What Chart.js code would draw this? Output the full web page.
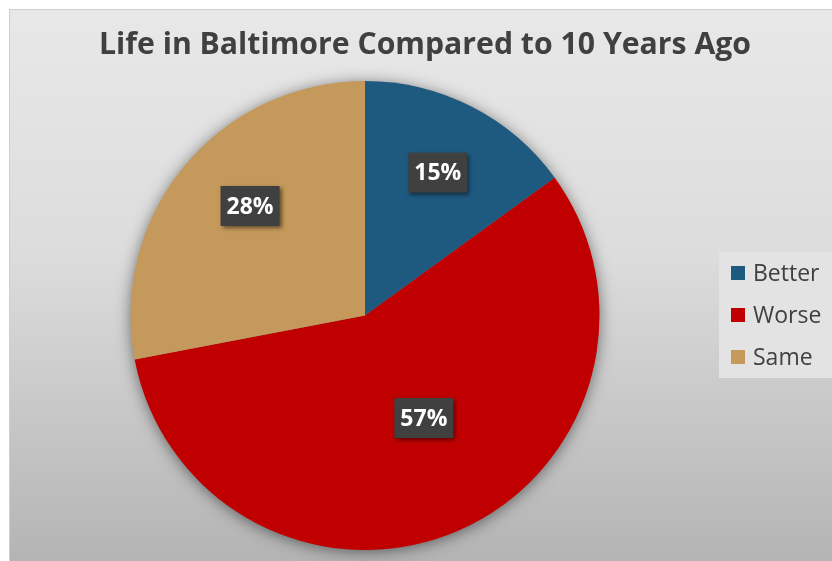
<!DOCTYPE html>
<html><head><meta charset="utf-8">
<script src="https://cdn.jsdelivr.net/npm/chart.js@4/dist/chart.umd.min.js"></script>
<style>html,body{margin:0;padding:0;background:#fff}#wrap{width:832px;height:561px;position:relative}</style>
</head><body><div id="wrap"><canvas id="c" width="832" height="561"></canvas></div>
<script>
const titleText = "Life in Baltimore Compared to 10 Years Ago";
const categories = ["Better", "Worse", "Same"];
const values = [15, 57, 28];
const labelsText = ["15%", "57%", "28%"];
const colors = ["#1e5a80", "#c00000", "#c4995b"];

const bgPlugin = {
  id: 'bg',
  beforeDraw(chart) {
    const ctx = chart.ctx;
    ctx.save();
    ctx.fillStyle = '#ffffff';
    ctx.fillRect(0, 0, chart.width, chart.height);
    const g = ctx.createLinearGradient(0, 9, 0, chart.height);
    g.addColorStop(0, '#e8e8e8');
    g.addColorStop(0.45, '#dcdcdc');
    g.addColorStop(1, '#b4b4b4');
    ctx.fillStyle = g;
    ctx.fillRect(9, 9, chart.width - 9, chart.height - 9);
    ctx.strokeStyle = '#cfcfcf';
    ctx.lineWidth = 1;
    ctx.strokeRect(9.5, 9.5, chart.width, chart.height);
    ctx.fillStyle = '#404040';
    ctx.font = 'bold 31px "Open Sans", "Noto Sans", sans-serif';
    ctx.textAlign = 'center';
    ctx.textBaseline = 'middle';
    ctx.fillText(titleText, 425, 45, 652);
    ctx.restore();
  },
  beforeDatasetsDraw(chart) {
    const meta = chart.getDatasetMeta(0);
    const a = meta.data[0];
    const ctx = chart.ctx;
    ctx.save();
    ctx.shadowColor = 'rgba(0,0,0,0.55)';
    ctx.shadowBlur = 16;
    ctx.shadowOffsetY = 2;
    ctx.fillStyle = '#888';
    ctx.beginPath();
    ctx.arc(a.x, a.y, a.outerRadius - 1, 0, Math.PI * 2);
    ctx.fill();
    ctx.restore();
  },
  afterDatasetsDraw(chart) {
    const meta = chart.getDatasetMeta(0);
    const ctx = chart.ctx;
    const frac = [0.684, 0.504, 0.677];
    const shift = [0, -0.113, 0.07];
    ctx.save();
    ctx.font = 'bold 23px "Open Sans", "Noto Sans", sans-serif';
    ctx.textAlign = 'center';
    ctx.textBaseline = 'middle';
    meta.data.forEach((arc, i) => {
      const mid = (arc.startAngle + arc.endAngle) / 2 + shift[i];
      const r = arc.outerRadius * frac[i];
      const x = arc.x + Math.cos(mid) * r;
      const y = arc.y + Math.sin(mid) * r;
      const w = 59, h = 40;
      ctx.save();
      ctx.shadowColor = 'rgba(0,0,0,0.5)';
      ctx.shadowBlur = 4;
      ctx.shadowOffsetX = 2;
      ctx.shadowOffsetY = 2;
      ctx.fillStyle = '#404040';
      ctx.fillRect(x - w / 2, y - h / 2, w, h);
      ctx.restore();
      ctx.fillStyle = '#ffffff';
      ctx.fillText(labelsText[i], x, y + 1, 50);
    });
    ctx.fillStyle = '#e3e3e3';
    ctx.fillRect(719, 252, 120, 126);
    ctx.font = '23px "Open Sans", "Noto Sans", sans-serif';
    ctx.textAlign = 'left';
    categories.forEach((c, i) => {
      const y = 273 + i * 42;
      ctx.fillStyle = colors[i];
      ctx.fillRect(731, y - 7, 14, 14);
      ctx.fillStyle = '#404040';
      ctx.fillText(c, 753, y + 1, 74);
    });
    ctx.restore();
  }
};

new Chart(document.getElementById('c'), {
  type: 'pie',
  data: {
    labels: categories,
    datasets: [{ data: values, backgroundColor: colors, borderWidth: 0 }]
  },
  options: {
    responsive: false,
    animation: false,
    layout: { padding: { left: 130, right: 232, top: 81, bottom: 11 } },
    plugins: { legend: { display: false }, tooltip: { enabled: false }, title: { display: false } }
  },
  plugins: [bgPlugin]
});
</script></body></html>
